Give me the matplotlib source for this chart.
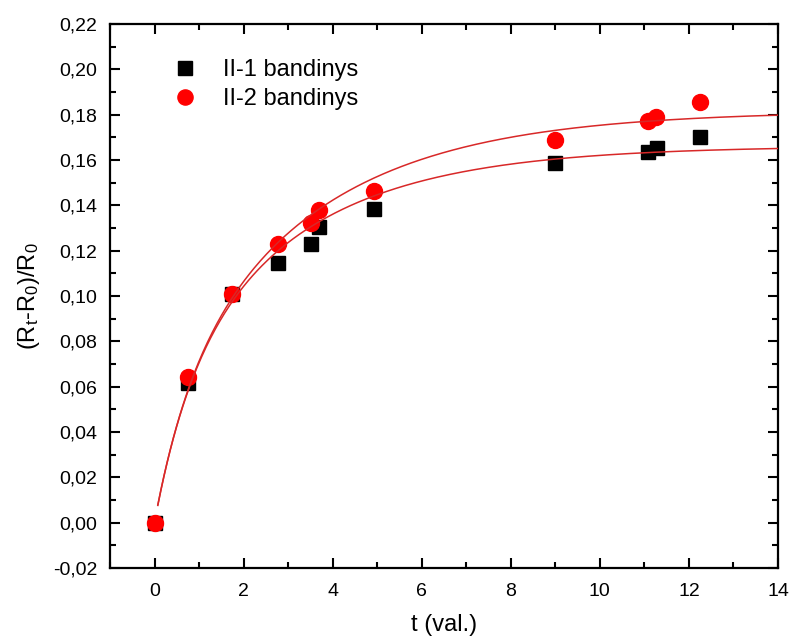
import numpy as np
import matplotlib.pyplot as plt
from matplotlib.ticker import MultipleLocator, FuncFormatter

plt.rcParams['font.family'] = ['Liberation Sans', 'DejaVu Sans']
plt.rcParams['mathtext.default'] = 'regular'

# measured relative resistance change
t1 = [0, 0.75, 1.75, 2.78, 3.51, 3.69, 4.92, 9.0, 11.08, 11.28, 12.26]
r1 = [0.0, 0.0616, 0.1008, 0.1145, 0.1229, 0.1304, 0.1382, 0.1586, 0.1637, 0.1652, 0.1702]

t2 = [0, 0.75, 1.75, 2.78, 3.51, 3.69, 4.92, 9.0, 11.08, 11.26, 12.26]
r2 = [0.0, 0.0643, 0.1010, 0.1228, 0.1320, 0.1380, 0.1464, 0.1690, 0.1773, 0.1788, 0.1857]

# two-exponential fit parameters: y0, A1, tau1, A2, tau2
fit1 = [0.1662, 0.0555, 0.81, 0.1103, 3.05]
fit2 = [0.1817, 0.0500, 0.75, 0.1317, 3.30]


def exp2(t, y0, a1, tau1, a2, tau2):
    return y0 - a1 * np.exp(-t / tau1) - a2 * np.exp(-t / tau2)


fig = plt.figure(figsize=(7.89, 6.39), dpi=100)
ax = fig.add_axes([0.1394, 0.1111, 0.8466, 0.8513])

ax.plot(t1, r1, 's', color='black', markersize=10.5, label='II-1 bandinys', zorder=3)
ax.plot(t2, r2, 'o', color='#ff0000', markersize=11.5, label='II-2 bandinys', zorder=4)

tt = np.linspace(0.074, 14, 400)
for p in (fit1, fit2):
    ax.plot(tt, exp2(tt, *p), color='#d82828', lw=1.1, zorder=5)

ax.set_xlim(-1, 14)
ax.set_ylim(-0.02, 0.22)
ax.xaxis.set_major_locator(MultipleLocator(2))
ax.xaxis.set_minor_locator(MultipleLocator(1))
ax.yaxis.set_major_locator(MultipleLocator(0.02))
ax.yaxis.set_minor_locator(MultipleLocator(0.01))
ax.yaxis.set_major_formatter(FuncFormatter(lambda v, p: f'{v:.2f}'.replace('.', ',').replace('-0,00', '0,00')))

ax.tick_params(which='both', direction='in', top=True, right=True, width=1.5, labelsize=14)
ax.tick_params(which='major', length=7)
ax.tick_params(axis='x', which='major', pad=11)
ax.tick_params(axis='y', which='major', pad=9)
ax.tick_params(which='minor', length=4)
for s in ax.spines.values():
    s.set_linewidth(1.6)

ax.set_xlabel('t (val.)', fontsize=17, labelpad=10)
ax.set_ylabel('(R$_t$-R$_0$)/R$_0$', fontsize=17, labelpad=8)

ax.legend(loc='upper left', bbox_to_anchor=(0.045, 0.975), frameon=False, fontsize=17,
          handletextpad=0.6, labelspacing=0.3, markerscale=0.95)

fig.savefig('out.png', dpi=100)
